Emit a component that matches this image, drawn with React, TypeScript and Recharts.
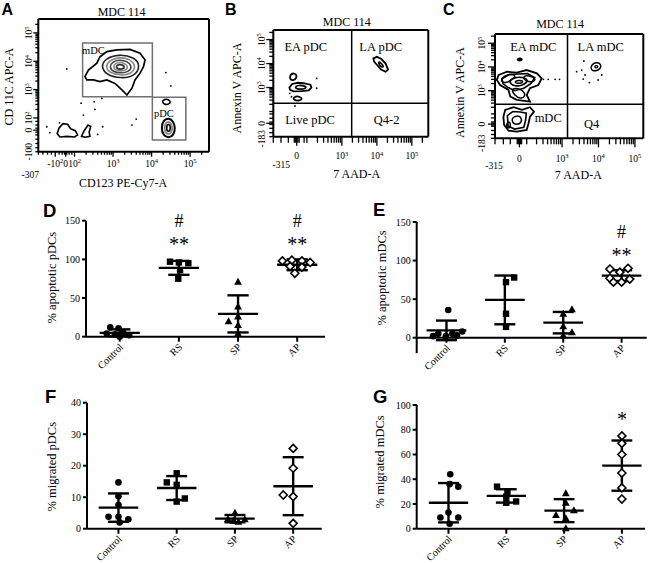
import React from 'react';
import { ComposedChart, Scatter, XAxis, YAxis, ReferenceLine, ReferenceArea, ReferenceDot } from 'recharts';

const SERIF = '"Liberation Serif", "Times New Roman", Times, serif';
const SANS = '"Liberation Sans", Arial, Helvetica, sans-serif';

// ---------------- D-G: dot plots ----------------
const groups = ['Control', 'RS', 'SP', 'AP'];

// D  % apoptotic pDCs
const apoPdcVals = [[12, 11, 4, 3, 5, 2, 0], [97, 96, 95, 86, 75], [71, 39, 26, 20, 15, 4], [98, 99, 98, 96, 91, 90, 82]];
const apoPdcJit = [[-0.16, -0.02, -0.22, -0.08, 0.06, 0.16, 0.0], [-0.15, 0.0, 0.16, 0.02, -0.01], [0, 0, 0, -0.16, 0, 0], [-0.25, -0.09, 0.08, 0.22, -0.12, 0.08, -0.04]];
const apoPdcMean = [5, 89, 29.5, 93];
const apoPdcSd = [4.5, 9, 24, 7];
const apoPdcNotes = [{ g: 1, y: 149, t: '#' }, { g: 1, y: 125, t: '**' }, { g: 3, y: 149, t: '#' }, { g: 3, y: 125, t: '**' }];

// E  % apoptotic mDCs
const apoMdcVals = [[36, 5, 2, 5, 3, 8, 2], [78, 72, 31, 14], [37, 31, 15, 7, 3], [89, 90, 85, 77, 76, 72, 72]];
const apoMdcJit = [[0.03, -0.14, -0.01, 0.1, 0.18, 0.27, -0.23], [0.16, 0.02, 0.02, 0.02], [0.15, 0, 0, 0.15, 0], [-0.2, 0.11, -0.03, -0.2, 0.14, -0.14, 0]];
const apoMdcMean = [9.5, 49, 19.5, 80.5];
const apoMdcSd = [12.7, 31.6, 13.9, 7];
const apoMdcNotes = [{ g: 3, y: 137, t: '#' }, { g: 3, y: 112, t: '**' }];

// F  % migrated pDCs
const migPdcVals = [[14.7, 10.3, 7.5, 3.8, 3.8, 3.0, 2.0], [17.6, 14.7, 13.9, 9.6, 8.6], [5.1, 3.1, 2.2, 3.0, 2.5], [25.5, 19.2, 10.7, 10.2, 1.7]];
const migPdcJit = [[0, 0, 0, -0.17, 0, 0.17, 0.02], [0, -0.17, 0, 0.14, 0], [0, -0.12, 0.06, 0.17, -0.03], [0, 0, -0.17, 0, 0]];
const migPdcMean = [6.7, 12.9, 3.2, 13.5];
const migPdcSd = [4.5, 3.8, 1.15, 9.2];

// G  % migrated mDCs
const migMdcVals = [[44, 36, 34, 13, 9, 9, 4], [34, 30, 26, 21, 22], [28.6, 21, 11, 15, 8.4, 0.3], [75, 69, 60, 45, 33, 24]];
const migMdcJit = [[0.03, 0.02, 0.17, 0, -0.14, 0.17, 0.02], [-0.16, 0.02, 0, 0, 0.17], [0.03, 0.03, -0.14, 0.17, 0.03, 0.03], [0, 0, 0, 0, 0, 0]];
const migMdcMean = [21, 26.5, 14.6, 51];
const migMdcSd = [15.9, 5.4, 9.3, 20.3];
const migMdcNotes = [{ g: 3, y: 92, t: '*' }];

// ---------------- A-C: flow plots (axis units = decades) ----------------
const aMdc1 = [[2.27, 3.46], [2.36, 3.69], [2.58, 3.93], [2.66, 4.16], [2.84, 4.34], [3.1, 4.4], [3.44, 4.42], [3.7, 4.28], [3.83, 4.05], [3.79, 3.81], [3.7, 3.58], [3.57, 3.34], [3.49, 3.05], [3.36, 2.81], [3.23, 2.99], [3.05, 3.22], [2.84, 3.34], [2.66, 3.28], [2.49, 3.34], [2.32, 3.34]];
const aMdc2 = [[3.72, 3.85], [3.55, 4.15], [3.15, 4.25], [2.8, 4.1], [2.68, 3.8], [2.85, 3.5], [3.2, 3.4], [3.55, 3.45]];
const aMdc3 = [[3.6, 3.82], [3.45, 4.08], [3.15, 4.15], [2.9, 4.03], [2.8, 3.8], [2.92, 3.58], [3.2, 3.5], [3.48, 3.55]];
const aMdc4 = [[3.5, 3.8], [3.38, 4.0], [3.15, 4.06], [2.98, 3.98], [2.9, 3.8], [3.0, 3.63], [3.2, 3.58], [3.4, 3.62]];
const aMdc5 = [[3.4, 3.8], [3.3, 3.93], [3.17, 3.97], [3.05, 3.92], [3.0, 3.8], [3.06, 3.68], [3.2, 3.65], [3.33, 3.68]];
const aMdc6 = [[3.3, 3.8], [3.25, 3.87], [3.17, 3.89], [3.1, 3.86], [3.08, 3.8], [3.12, 3.73], [3.2, 3.72], [3.27, 3.74]];
const aPdc1 = [[4.62, 1.65], [4.56, 1.9], [4.44, 2.0], [4.3, 1.92], [4.25, 1.65], [4.3, 1.38], [4.44, 1.29], [4.57, 1.38]];
const aPdc2 = [[4.55, 1.65], [4.5, 1.82], [4.44, 1.88], [4.36, 1.82], [4.33, 1.65], [4.36, 1.47], [4.44, 1.42], [4.51, 1.48]];
const aPdc3 = [[4.49, 1.65], [4.47, 1.75], [4.44, 1.78], [4.4, 1.75], [4.39, 1.65], [4.4, 1.55], [4.44, 1.52], [4.47, 1.55]];
const aPdc4 = [[4.5, 2.57], [4.44, 2.66], [4.33, 2.66], [4.27, 2.58], [4.32, 2.48], [4.45, 2.47]];
const aNeg1 = [[1.55, 1.45], [1.6, 1.65], [1.7, 1.8], [1.82, 1.78], [1.9, 1.62], [2.02, 1.55], [2.08, 1.4], [2.0, 1.33], [1.8, 1.35], [1.62, 1.33]];
const aNeg2 = [[2.18, 1.35], [2.25, 1.55], [2.35, 1.75], [2.42, 1.7], [2.38, 1.5], [2.4, 1.35], [2.28, 1.32]];
const aDots = [[1.8, 3.73], [2.17, 2.52], [2.23, 2.1], [2.51, 2.57], [2.53, 2.3], [2.71, 2.69], [1.28, 1.69], [1.36, 1.48], [1.61, 1.83], [2.6, 1.42], [2.73, 1.69], [3.49, 1.75], [3.6, 1.96], [4.37, 3.6], [4.5, 3.13]];
const aGates = [{ x1: 2.21, x2: 4.02, y1: 2.75, y2: 4.64 }, { x1: 4.02, x2: 4.89, y1: 1.22, y2: 2.73 }];
const aText = [{ x: 2.49, y: 4.37, t: 'mDC' }, { x: 4.32, y: 2.15, t: 'pDC' }];

const bEa1 = [[1.51, 3.45], [1.55, 3.57], [1.63, 3.6], [1.71, 3.53], [1.7, 3.38], [1.6, 3.29], [1.53, 3.33]];
const bEa2 = [[1.5, 3.0], [1.58, 3.15], [1.75, 3.2], [1.9, 3.18], [2.1, 3.12], [2.13, 3.0], [2.05, 2.88], [1.85, 2.85], [1.62, 2.84], [1.52, 2.9]];
const bEa3 = [[1.65, 3.02], [1.75, 3.1], [1.92, 3.08], [2.0, 3.0], [1.9, 2.93], [1.72, 2.93]];
const bEa4 = [[1.6, 2.55], [1.68, 2.64], [1.8, 2.62], [1.88, 2.52], [1.78, 2.45], [1.65, 2.46]];
const bLa1 = [[3.9, 4.22], [4.0, 4.28], [4.12, 4.2], [4.25, 4.0], [4.32, 3.75], [4.25, 3.66], [4.12, 3.75], [4.0, 3.95], [3.92, 4.08]];
const bLa2 = [[4.05, 4.1], [4.15, 3.98], [4.2, 3.85], [4.13, 3.85], [4.05, 3.98]];
const bDots = [[2.28, 3.38], [2.28, 2.97], [1.56, 2.62], [1.66, 2.23], [1.51, 2.76]];
const bText = [{ x: 1.97, y: 4.7, t: 'EA pDC' }, { x: 4.11, y: 4.7, t: 'LA pDC' }, { x: 2.09, y: 1.65, t: 'Live pDC' }, { x: 4.28, y: 1.65, t: 'Q4-2' }];

const cEa1 = [[1.26, 3.66], [1.49, 3.8], [1.76, 3.76], [2.03, 3.87], [2.31, 3.73], [2.44, 3.52], [2.35, 3.24], [2.12, 3.1], [2.03, 2.82], [2.12, 2.54], [1.76, 2.61], [1.58, 2.75], [1.53, 3.03], [1.3, 3.24], [1.21, 3.45]];
const cEa2 = [[1.35, 3.5], [1.55, 3.68], [1.8, 3.7], [2.05, 3.72], [2.25, 3.55], [2.15, 3.3], [1.95, 3.1], [1.7, 3.0], [1.5, 3.15], [1.38, 3.3]];
const cEa3 = [[1.55, 3.45], [1.75, 3.58], [1.98, 3.55], [2.08, 3.4], [1.92, 3.22], [1.7, 3.18], [1.58, 3.3]];
const cEa4 = [[1.7, 3.4], [1.85, 3.45], [1.95, 3.38], [1.85, 3.3], [1.72, 3.32]];
const cEa5 = [[1.3, 3.4], [1.4, 3.62], [1.6, 3.72], [1.75, 3.62], [1.62, 3.45], [1.45, 3.3]];
const cEa6 = [[1.9, 3.6], [2.1, 3.65], [2.3, 3.5], [2.2, 3.35], [2.0, 3.4]];
const cEa7 = [[1.6, 3.05], [1.75, 3.12], [1.95, 3.0], [2.0, 2.75], [1.85, 2.65], [1.7, 2.8]];
const cEaTop = [[1.76, 4.3], [1.83, 4.38], [1.92, 4.33], [1.85, 4.26]];
const cLive1 = [[1.44, 2.19], [1.67, 2.3], [1.9, 2.19], [2.12, 2.3], [2.23, 2.11], [2.12, 1.9], [2.08, 1.62], [2.03, 1.34], [1.76, 1.27], [1.53, 1.31], [1.41, 1.55], [1.39, 1.9]];
const cLive2 = [[1.5, 1.95], [1.65, 2.12], [1.85, 2.1], [2.02, 2.05], [2.0, 1.75], [1.95, 1.45], [1.7, 1.38], [1.52, 1.5]];
const cLive3 = [[1.62, 1.85], [1.75, 1.95], [1.88, 1.9], [1.9, 1.65], [1.75, 1.55], [1.63, 1.65]];
const cLive4 = [[1.45, 1.55], [1.55, 1.75], [1.6, 1.5], [1.52, 1.38]];
const cLa1 = [[3.78, 3.98], [3.85, 4.15], [3.97, 4.2], [4.08, 4.1], [4.05, 3.9], [3.92, 3.82], [3.82, 3.85]];
const cLa2 = [[3.88, 4.02], [3.95, 4.08], [4.0, 4.0], [3.93, 3.94]];
const cDots = [[2.49, 3.48], [2.62, 3.48], [2.81, 3.48], [2.93, 3.48], [3.6, 4.25], [3.4, 3.8], [3.54, 3.87], [3.63, 3.66], [3.75, 3.34], [3.58, 3.49], [3.99, 3.45], [4.09, 3.66]];
const cText = [{ x: 2.21, y: 4.86, t: 'EA mDC' }, { x: 4.06, y: 4.86, t: 'LA mDC' }, { x: 2.62, y: 1.88, t: 'mDC' }, { x: 3.81, y: 1.62, t: 'Q4' }];

// log-axis minor ticks between decades
const decadeTicks = (from: number, to: number) => {
  const out: number[] = [];
  for (let d = from; d < to; d++) for (let k = 1; k <= 9; k++) out.push(+(d + Math.log10(k)).toFixed(4));
  return out;
};

const aXTicks = [1.06, 1.18, 1.3, 1.4, 1.5, 1.6, 1.68, 1.74, 1.77, 1.8, 1.86, 1.93, ...decadeTicks(2, 5), 5, 5.3];
const aXLabs = [{ v: 1.06, t: '-307', dx: -8, dy: 11 }, { v: 1.5, t: '-10', sup: '2' }, { v: 1.77, t: '0' }, { v: 2, t: '10', sup: '2' }, { v: 3, t: '10', sup: '3' }, { v: 4, t: '10', sup: '4' }, { v: 5, t: '10', sup: '5' }];
const aYTicks = [0.81, 0.95, 1.1, 1.25, 1.4, 1.5, 1.57, 1.64, 1.75, 1.88, ...decadeTicks(2, 5), 5, 5.3];
const aYLabs = [{ v: 0.81, t: '-100' }, { v: 1.57, t: '0' }, { v: 2, t: '10', sup: '2' }, { v: 3, t: '10', sup: '3' }, { v: 4, t: '10', sup: '4' }, { v: 5, t: '10', sup: '5' }];

const bXTicks = [1.04, 1.26, 1.47, 1.64, 1.68, 1.71, 1.74, 1.78, 1.92, ...decadeTicks(2, 5), 5, 5.3];
const bXLabs = [{ v: 1.04, t: '-315', dx: 8, dy: 9 }, { v: 1.71, t: '0' }, { v: 3, t: '10', sup: '3' }, { v: 4, t: '10', sup: '4' }, { v: 5, t: '10', sup: '5' }];
const bYTicks = [0.95, 1.12, 1.3, 1.46, 1.51, 1.56, 1.72, 1.9, ...decadeTicks(2, 5), 5, 5.3];
const bYLabs = [{ v: 0.95, t: '-183', dy: 2 }, { v: 1.51, t: '0' }, { v: 3, t: '10', sup: '3' }, { v: 4, t: '10', sup: '4' }, { v: 5, t: '10', sup: '5' }];

const cXTicks = [1.16, 1.39, 1.58, 1.77, 1.8, 1.83, 1.86, 1.89, 2.03, ...decadeTicks(2, 5).filter((t) => t > 2.05), 5];
const cXLabs = [{ v: 1.16, t: '-315', dx: -1, dy: 7 }, { v: 1.83, t: '0' }, { v: 3, t: '10', sup: '3' }, { v: 4, t: '10', sup: '4' }, { v: 5, t: '10', sup: '5' }];
const cYTicks = [0.99, 1.15, 1.32, 1.5, 1.55, 1.59, 1.63, 1.68, 1.85, 2.02, ...decadeTicks(2, 5).filter((t) => t > 2.05), 5, 5.3];
const cYLabs = [{ v: 0.99, t: '-183', dy: 5 }, { v: 1.59, t: '0' }, { v: 3, t: '10', sup: '3' }, { v: 4, t: '10', sup: '4' }, { v: 5, t: '10', sup: '5' }];

const toPts = (arr: number[][]) => arr.map(([x, y]) => ({ x, y }));

function FlowTick(props: any) {
  const { x, y, payload, labs, majors, len, off, vertical } = props;
  const v = payload.value;
  const near = (a: number) => Math.abs(a - v) < 1e-3;
  const L = majors.some(near) ? len[0] : len[1];
  const lab = labs.find((l: any) => near(l.v));
  const body = lab ? [lab.t, lab.sup ? <tspan key="s" dy={-3.5} fontSize={6.5}>{lab.sup}</tspan> : null] : null;
  if (!vertical) {
    return (
      <g>
        <line x1={x} x2={x} y1={y} y2={y + L} stroke="#000" strokeWidth={1.3} />
        {lab && (
          <text x={x + (lab.dx || 0)} y={y + off + (lab.dy || 0)} dy="0.35em" textAnchor="middle" fontSize={9.5} fontFamily={SERIF} fill="#000">{body}</text>
        )}
      </g>
    );
  }
  const tx = x - off;
  const ty = y + ((lab && lab.dy) || 0);
  return (
    <g>
      <line x1={x - L} x2={x} y1={y} y2={y} stroke="#000" strokeWidth={1.3} />
      {lab && (
        <text x={tx} y={ty} dy="0.35em" textAnchor="middle" transform={`rotate(-90 ${tx} ${ty})`} fontSize={9.5} fontFamily={SERIF} fill="#000">{body}</text>
      )}
    </g>
  );
}

const hidePoint = () => <g />;
const dotShape = (s: any) => <circle cx={s.cx} cy={s.cy} r={0.9} fill="#000" />;

function FlowPanel(p: any) {
  const txt = { fontSize: 12, fontFamily: SERIF, fill: '#000' };
  return (
    <div style={{ position: 'absolute', left: p.left, top: p.top }}>
      <ComposedChart width={p.width} height={p.height} margin={{ top: p.mTop, right: p.mRight, bottom: 0, left: 0 }}>
        <XAxis type="number" dataKey="x" domain={p.xDomain} ticks={p.xTicks} interval={0} tickLine={false} tickSize={0} tickMargin={0}
          height={p.xAxisH} axisLine={{ stroke: '#000', strokeWidth: 2 }}
          tick={(t: any) => <FlowTick {...t} labs={p.xLabs} majors={p.xMajors} len={p.xLen} off={p.xOff} />}
          label={{ value: p.xLabel, position: 'center', dx: p.xLabelD[0], dy: p.xLabelD[1], ...txt }} />
        <YAxis type="number" dataKey="y" domain={p.yDomain} ticks={p.yTicks} interval={0} tickLine={false} tickSize={0} tickMargin={0}
          width={p.yAxisW} axisLine={{ stroke: '#000', strokeWidth: 2 }}
          tick={(t: any) => <FlowTick {...t} vertical labs={p.yLabs} majors={p.yMajors} len={p.yLen} off={p.yOff} />}
          label={{ value: p.yLabel, angle: -90, position: 'center', dx: p.yLabelD[0], dy: p.yLabelD[1], ...txt }} />
        <ReferenceLine y={p.yDomain[1]} stroke="#000" strokeWidth={2} ifOverflow="visible"
          label={{ value: 'MDC 114', position: 'top', offset: p.titleD[1], dx: p.titleD[0], ...txt }} />
        <ReferenceLine x={p.xDomain[1]} stroke="#000" strokeWidth={2} ifOverflow="visible" />
        {p.quad && <ReferenceLine x={p.quad[0]} stroke="#000" strokeWidth={1.5} />}
        {p.quad && <ReferenceLine y={p.quad[1]} stroke="#000" strokeWidth={1.5} />}
        {(p.gates || []).map((g: any, i: number) => (
          <ReferenceArea key={'g' + i} x1={g.x1} x2={g.x2} y1={g.y1} y2={g.y2} fill="none" stroke="#707070" strokeWidth={1.5} />
        ))}
        {p.contours.map((c: any, i: number) => (
          <Scatter key={'c' + i} data={toPts(c.pts)} line={{ stroke: c.color, strokeWidth: c.w }} lineType="joint"
            lineJointType={c.curve || 'basisClosed'} shape={hidePoint} isAnimationActive={false} />
        ))}
        <Scatter data={toPts(p.dots)} shape={dotShape} isAnimationActive={false} />
        {p.texts.map((t: any, i: number) => (
          <ReferenceDot key={'t' + i} x={t.x} y={t.y} r={0} ifOverflow="visible"
            label={{ value: t.t, position: 'center', fontSize: p.textSize, fontFamily: SERIF, fill: '#000' }} />
        ))}
      </ComposedChart>
    </div>
  );
}

// markers: filled circle, filled square, filled triangle, open diamond
const markers = [
  (s: any) => <circle cx={s.cx} cy={s.cy} r={3.3} fill="#000" />,
  (s: any) => <rect x={s.cx - 3.2} y={s.cy - 3.2} width={6.4} height={6.4} fill="#000" />,
  (s: any) => <path d={`M${s.cx},${s.cy - 4} L${s.cx + 3.9},${s.cy + 3} L${s.cx - 3.9},${s.cy + 3} Z`} fill="#000" />,
  (s: any) => <path d={`M${s.cx},${s.cy - 4} L${s.cx + 4},${s.cy} L${s.cx},${s.cy + 4} L${s.cx - 4},${s.cy} Z`} fill="#fff" stroke="#000" strokeWidth={1.6} />,
];

const CatTick = (p: any) => {
  const x = p.x + 1.5;
  const y = p.y + 0.5;
  return (
    <text x={x} y={y} dy="0.35em" textAnchor="end" transform={`rotate(-45 ${x} ${y})`} fontSize={10.2} fontFamily={SERIF} fill="#000">
      {groups[p.payload.value]}
    </text>
  );
};

const NoteShape = (p: any) => {
  const t = p.payload.t;
  const hash = t === '#';
  return (
    <text x={p.cx} y={p.cy} dy={hash ? '0.33em' : '0.55em'} textAnchor="middle" fontSize={hash ? 18 : 20} fontFamily={SERIF} fill="#000">{t}</text>
  );
};

function DotPanel(p: any) {
  const pts = p.vals.map((g: number[], gi: number) => g.map((v, k) => ({ x: gi + p.jit[gi][k], y: v })));
  const notes = (p.notes || []).map((n: any) => ({ x: n.g, y: n.y, t: n.t }));
  const ln = { stroke: '#000', strokeWidth: 2.4 };
  const mh = 0.34;
  const ch = 0.18;
  return (
    <div style={{ position: 'absolute', left: p.left, top: p.top }}>
      <ComposedChart width={p.width} height={p.height} margin={{ top: p.mTop, right: p.mRight, bottom: 0, left: 0 }}>
        <XAxis type="number" dataKey="x" domain={p.xDomain} ticks={[0, 1, 2, 3]} interval={0} height={p.xAxisH}
          tickSize={5} tickMargin={3} axisLine={{ stroke: '#000', strokeWidth: 2 }} tickLine={{ stroke: '#000', strokeWidth: 2 }} tick={CatTick} />
        <YAxis type="number" dataKey="y" domain={[0, p.yMax]} ticks={p.yTicks} interval={0} width={p.yAxisW}
          tickSize={4} tickMargin={2} axisLine={{ stroke: '#000', strokeWidth: 2 }} tickLine={{ stroke: '#000', strokeWidth: 2 }}
          tick={{ fontSize: 10, fill: '#000', fontFamily: SERIF }}
          label={{ value: p.yLabel, angle: -90, position: 'center', dx: p.labD[0], dy: p.labD[1], fontSize: 12.5, fill: '#000', fontFamily: SERIF }} />
        {p.extendTo !== undefined && (
          <ReferenceLine segment={[{ x: p.xDomain[0], y: 0 }, { x: p.xDomain[0], y: p.extendTo }]} stroke="#000" strokeWidth={2} ifOverflow="visible" />
        )}
        {groups.map((g, gi) => (
          <Scatter key={g} name={g} data={pts[gi]} shape={markers[gi]} isAnimationActive={false} />
        ))}
        {p.mean.map((m: number, gi: number) => (
          <ReferenceLine key={'m' + gi} segment={[{ x: gi - mh, y: m }, { x: gi + mh, y: m }]} {...ln} ifOverflow="visible" />
        ))}
        {p.mean.map((m: number, gi: number) => (
          <ReferenceLine key={'v' + gi} segment={[{ x: gi, y: m - p.sd[gi] }, { x: gi, y: m + p.sd[gi] }]} {...ln} ifOverflow="visible" />
        ))}
        {p.mean.map((m: number, gi: number) => (
          <ReferenceLine key={'u' + gi} segment={[{ x: gi - ch, y: m + p.sd[gi] }, { x: gi + ch, y: m + p.sd[gi] }]} {...ln} ifOverflow="visible" />
        ))}
        {p.mean.map((m: number, gi: number) => (
          <ReferenceLine key={'l' + gi} segment={[{ x: gi - ch, y: m - p.sd[gi] }, { x: gi + ch, y: m - p.sd[gi] }]} {...ln} ifOverflow="visible" />
        ))}
        {notes.length > 0 && <Scatter data={notes} shape={NoteShape} isAnimationActive={false} />}
      </ComposedChart>
    </div>
  );
}

const letters = [
  { t: 'A', x: 1.5, y: 15, s: 16 },
  { t: 'B', x: 225, y: 15, s: 16 },
  { t: 'C', x: 443, y: 15, s: 16 },
  { t: 'D', x: 43, y: 216.5, s: 18.5 },
  { t: 'E', x: 373, y: 216, s: 18.5 },
  { t: 'F', x: 45, y: 403, s: 18.5 },
  { t: 'G', x: 373, y: 403, s: 18.5 },
];

export default function App() {
  return (
    <div style={{ position: 'absolute', left: 0, top: 0, width: 650, height: 563, background: '#fff', overflow: 'hidden' }}>
      <FlowPanel left={0} top={0} width={215} height={195} mTop={19} mRight={6} yAxisW={38.3} xAxisH={43.3}
        xDomain={[1.06, 5.49]} yDomain={[0.81, 5.49]}
        xTicks={aXTicks} xLabs={aXLabs} xMajors={[1.5, 1.77, 2, 3, 4, 5]} xLen={[5, 3]} xOff={11.5}
        yTicks={aYTicks} yLabs={aYLabs} yMajors={[1.57, 2, 3, 4, 5]} yLen={[5, 3]} yOff={9.5}
        xLabel="CD123 PE-Cy7-A" xLabelD={[-0.6, 9.7]} yLabel="CD 11C APC-A" yLabelD={[-10.2, 1.4]} titleD={[-2, 3]}
        gates={aGates} texts={aText} textSize={10.5} dots={aDots}
        contours={[
          { pts: aMdc1, color: '#000', w: 1.7, curve: 'linearClosed' },
          { pts: aMdc2, color: '#222', w: 1.6 },
          { pts: aMdc3, color: '#888', w: 1.6 },
          { pts: aMdc4, color: '#444', w: 1.6 },
          { pts: aMdc5, color: '#888', w: 1.6 },
          { pts: aMdc6, color: '#333', w: 1.8 },
          { pts: aPdc1, color: '#000', w: 2 },
          { pts: aPdc2, color: '#888', w: 2 },
          { pts: aPdc3, color: '#000', w: 1.6 },
          { pts: aPdc4, color: '#000', w: 1.6 },
          { pts: aNeg1, color: '#000', w: 1.6, curve: 'linearClosed' },
          { pts: aNeg2, color: '#000', w: 1.6, curve: 'linearClosed' },
        ]} />
      <FlowPanel left={218} top={0} width={215} height={195} mTop={30} mRight={4.7} yAxisW={55.3} xAxisH={58.3}
        xDomain={[1.04, 5.47]} yDomain={[0.95, 5.4]} quad={[3.28, 2.34]}
        xTicks={bXTicks} xLabs={bXLabs} xMajors={[1.71, 3, 4, 5]} xLen={[9, 6]} xOff={19}
        yTicks={bYTicks} yLabs={bYLabs} yMajors={[1.51, 3, 4, 5]} yLen={[7, 4]} yOff={12}
        xLabel="7 AAD-A" xLabelD={[5.9, 7.5]} yLabel="Annexin V APC-A" yLabelD={[-9, 4.7]} titleD={[-4, 4]}
        texts={bText} textSize={12.5} dots={bDots}
        contours={[
          { pts: bEa1, color: '#000', w: 1.8 },
          { pts: bEa2, color: '#000', w: 1.8, curve: 'linearClosed' },
          { pts: bEa3, color: '#000', w: 1.6 },
          { pts: bEa4, color: '#000', w: 1.8 },
          { pts: bLa1, color: '#000', w: 1.8, curve: 'linearClosed' },
          { pts: bLa2, color: '#000', w: 1.6 },
        ]} />
      <FlowPanel left={438} top={0} width={212} height={195} mTop={34} mRight={6.7} yAxisW={57} xAxisH={56.7}
        xDomain={[1.16, 5.23]} yDomain={[0.99, 5.39]} quad={[3.15, 2.43]}
        xTicks={cXTicks} xLabs={cXLabs} xMajors={[1.83, 3, 4, 5]} xLen={[9, 6]} xOff={20}
        yTicks={cYTicks} yLabs={cYLabs} yMajors={[1.59, 3, 4, 5]} yLen={[7, 4]} yOff={13}
        xLabel="7 AAD-A" xLabelD={[9.2, 8.4]} yLabel="Annexin V APC-A" yLabelD={[-7.2, 6.4]} titleD={[-9, 6.4]}
        texts={cText} textSize={12.5} dots={cDots}
        contours={[
          { pts: cEa1, color: '#000', w: 1.8, curve: 'linearClosed' },
          { pts: cEa2, color: '#000', w: 1.6, curve: 'linearClosed' },
          { pts: cEa3, color: '#000', w: 1.6 },
          { pts: cEa4, color: '#000', w: 1.5 },
          { pts: cEa5, color: '#000', w: 1.5 },
          { pts: cEa6, color: '#000', w: 1.5 },
          { pts: cEa7, color: '#000', w: 1.5 },
          { pts: cEaTop, color: '#000', w: 2 },
          { pts: cLive1, color: '#000', w: 1.8, curve: 'linearClosed' },
          { pts: cLive2, color: '#000', w: 1.6, curve: 'linearClosed' },
          { pts: cLive3, color: '#000', w: 1.5 },
          { pts: cLive4, color: '#000', w: 1.5 },
          { pts: cLa1, color: '#000', w: 1.5 },
          { pts: cLa2, color: '#000', w: 1.3 },
        ]} />

      <DotPanel left={0} top={200} width={330} height={175} mTop={20.7} mRight={5} yAxisW={86} xAxisH={38.3}
        xDomain={[-0.57, 3.47]} yMax={150} yTicks={[0, 50, 100, 150]} yLabel="% apoptotic pDCs" labD={[9, -1]}
        vals={apoPdcVals} jit={apoPdcJit} mean={apoPdcMean} sd={apoPdcSd} notes={apoPdcNotes} />
      <DotPanel left={330} top={200} width={320} height={175} mTop={22} mRight={3.3} yAxisW={86.7} xAxisH={37.3}
        xDomain={[-0.51, 3.43]} yMax={150} yTicks={[0, 50, 100, 150]} yLabel="% apoptotic mDCs" labD={[8.3, -1.9]} extendTo={-20}
        vals={apoMdcVals} jit={apoMdcJit} mean={apoMdcMean} sd={apoMdcSd} notes={apoMdcNotes} />
      <DotPanel left={0} top={385} width={330} height={178} mTop={17.7} mRight={8.3} yAxisW={87} xAxisH={34.3}
        xDomain={[-0.54, 3.49]} yMax={40} yTicks={[0, 10, 20, 30, 40]} yLabel="% migrated pDCs" labD={[8.2, 1]}
        vals={migPdcVals} jit={migPdcJit} mean={migPdcMean} sd={migPdcSd} />
      <DotPanel left={330} top={385} width={320} height={178} mTop={20} mRight={5} yAxisW={86.7} xAxisH={34.3}
        xDomain={[-0.55, 3.4]} yMax={100} yTicks={[0, 20, 40, 60, 80, 100]} yLabel="% migrated mDCs" labD={[6.7, -5]}
        vals={migMdcVals} jit={migMdcJit} mean={migMdcMean} sd={migMdcSd} notes={migMdcNotes} />

      <svg width={650} height={563} style={{ position: 'absolute', left: 0, top: 0, pointerEvents: 'none' }}>
        {letters.map((l) => (
          <text key={l.t} x={l.x} y={l.y} fontSize={l.s} fontWeight="bold" fontFamily={SANS} fill="#000">{l.t}</text>
        ))}
      </svg>
    </div>
  );
}
